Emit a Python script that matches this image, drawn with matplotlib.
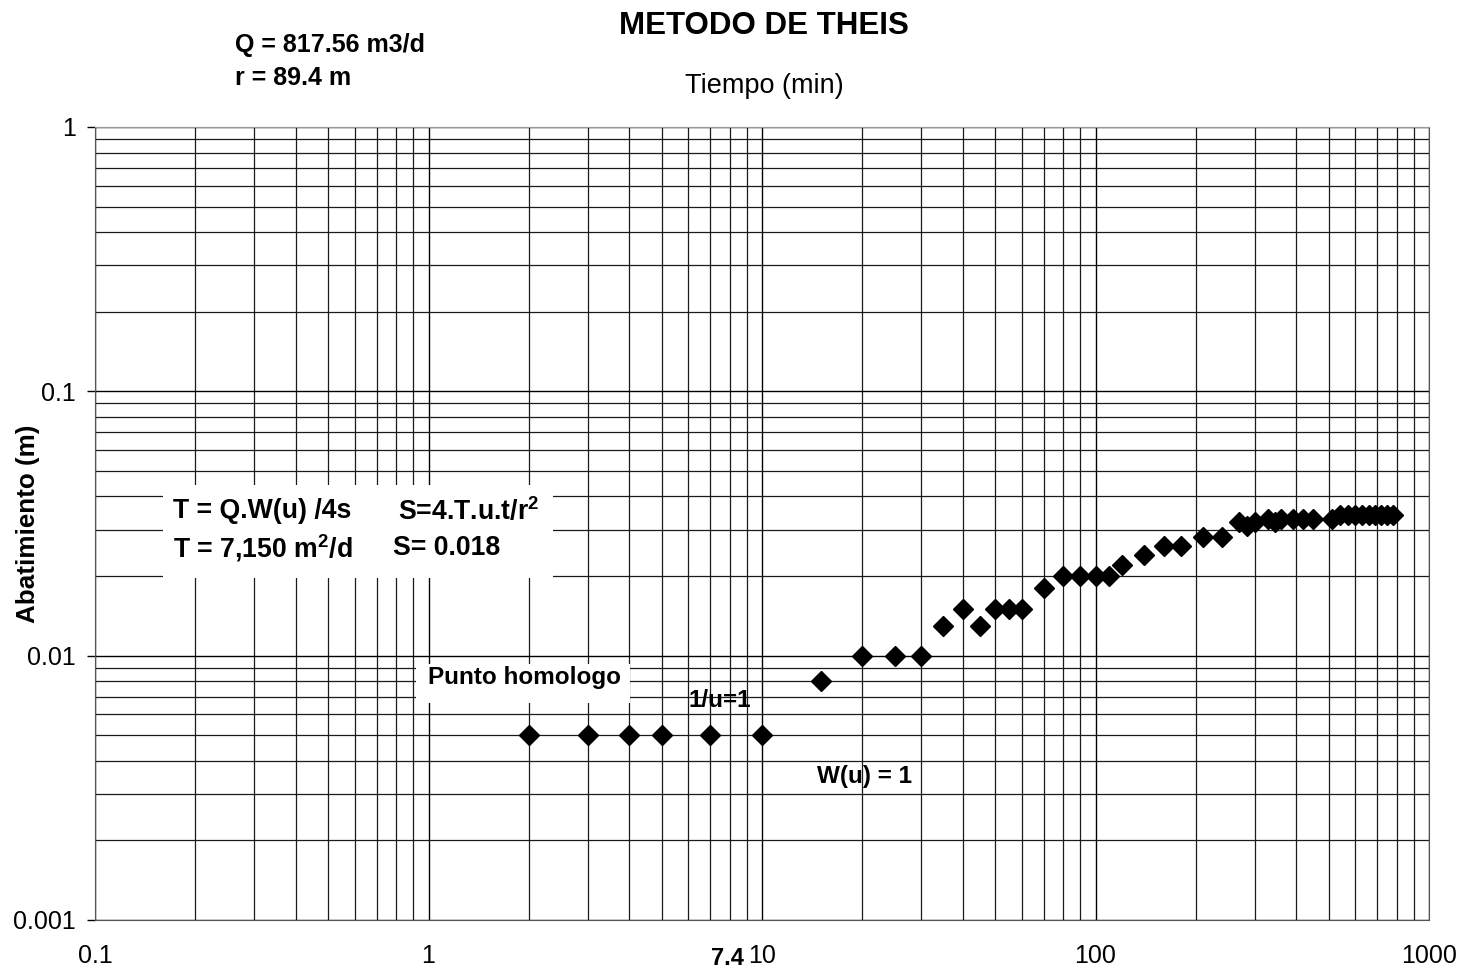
import matplotlib
matplotlib.use("Agg")
import matplotlib.pyplot as plt
from matplotlib.patches import Rectangle
from matplotlib.ticker import LogLocator, FixedLocator, FixedFormatter, NullFormatter

plt.rcParams['font.family'] = ['Liberation Sans', 'DejaVu Sans']
plt.rcParams['mathtext.fontset'] = 'custom'
plt.rcParams['mathtext.rm'] = 'Liberation Sans'
plt.rcParams['mathtext.bf'] = 'Liberation Sans:bold'

# prueba de bombeo: tiempo (min) vs abatimiento (m)
tiempo = [2, 3, 4, 5, 7, 10, 15, 20, 25, 30, 35, 40, 45, 50, 55, 60,
          70, 80, 90, 100, 110, 120, 140, 160, 180, 210, 240,
          270, 285, 300, 330, 345, 360, 390, 420, 450,
          510, 540, 570, 600, 630, 660, 690, 720, 750, 780]
abatimiento = [0.005, 0.005, 0.005, 0.005, 0.005, 0.005, 0.008, 0.010, 0.010, 0.010,
               0.013, 0.015, 0.013, 0.015, 0.015, 0.015,
               0.018, 0.020, 0.020, 0.020, 0.020, 0.022, 0.024, 0.026, 0.026, 0.028, 0.028,
               0.032, 0.031, 0.032, 0.033, 0.032, 0.033, 0.033, 0.033, 0.033,
               0.033, 0.034, 0.034, 0.034, 0.034, 0.034, 0.034, 0.034, 0.034, 0.034]

x_ticks = [0.1, 1, 10, 100, 1000]
x_labels = ["0.1", "1", "10", "100", "1000"]
y_ticks = [0.001, 0.01, 0.1, 1]
y_labels = ["0.001", "0.01", "0.1", "1"]

fig = plt.figure(figsize=(14.6, 9.73), dpi=100)
ax = fig.add_axes([0.0651, 0.0545, 0.9137, 0.815])

ax.set_xscale('log')
ax.set_yscale('log')
ax.set_xlim(0.1, 1000)
ax.set_ylim(0.001, 1)

# rejilla log completa
ax.xaxis.set_major_locator(FixedLocator(x_ticks))
ax.xaxis.set_major_formatter(FixedFormatter(x_labels))
ax.xaxis.set_minor_locator(LogLocator(base=10, subs=range(2, 10), numticks=20))
ax.xaxis.set_minor_formatter(NullFormatter())
ax.yaxis.set_major_locator(FixedLocator(y_ticks))
ax.yaxis.set_major_formatter(FixedFormatter(y_labels))
ax.yaxis.set_minor_locator(LogLocator(base=10, subs=range(2, 10), numticks=20))
ax.yaxis.set_minor_formatter(NullFormatter())
ax.grid(True, which='major', color='black', linewidth=1.0)
ax.grid(True, which='minor', color='#1a1a1a', linewidth=0.9)

ax.tick_params(axis='x', which='both', length=0, pad=17, labelsize=18)
ax.tick_params(axis='y', which='major', length=6, width=1, direction='out', pad=8, labelsize=18)
ax.tick_params(axis='y', which='minor', length=0)

for s in ['left', 'bottom', 'right']:
    ax.spines[s].set_color('#555555')
ax.spines['top'].set_color('#999999')

ax.set_ylabel("Abatimiento (m)", fontsize=18.7, fontweight='bold')
ax.yaxis.set_label_coords(-0.041, 0.5)

# cuadros blancos de las anotaciones
ax.add_patch(Rectangle((0.16, 0.0196), 2.36 - 0.16, 0.0444 - 0.0196,
                       facecolor='white', edgecolor='none', zorder=2))
ax.add_patch(Rectangle((0.917, 0.00664), 4.02 - 0.917, 0.00933 - 0.00664,
                       facecolor='white', edgecolor='none', zorder=2))

ax.plot(tiempo, abatimiento, linestyle='none', marker='D', markersize=10,
        color='black', zorder=3)

bold = dict(fontsize=19.2, fontweight='bold', va='center', ha='left', zorder=4)
ax.text(0.1714, 0.0351, "T = Q.W(u) /4s", **bold)
ax.text(0.81, 0.0351, r"S=4.T.u.t/r$^{\mathbf{2}}$", **bold)
ax.text(0.1714, 0.0256, r"T = 7,150 m$^{\mathbf{2}}$/d", **bold)
ax.text(0.783, 0.0256, "S= 0.018", **bold)
ax.text(0.9966, 0.00826, "Punto homologo", fontsize=17.5, fontweight='bold',
        va='center', ha='left', zorder=4)
ax.text(6.0, 0.00676, "1/u=1", fontsize=17.5, fontweight='bold', va='center', ha='left', zorder=4)
ax.text(14.6, 0.00348, "W(u) = 1", fontsize=17.5, fontweight='bold', va='center', ha='left', zorder=4)
ax.text(7.9, -0.049, "7.4", fontsize=17, fontweight='bold', va='center', ha='center',
        transform=ax.get_xaxis_transform())

fig.text(764 / 1460, 1 - 26 / 973, "METODO DE THEIS", fontsize=22.5, fontweight='bold',
         ha='center', va='center')
fig.text(764 / 1460, 1 - 86 / 973, "Tiempo (min)", fontsize=19.5, ha='center', va='center')
fig.text(235 / 1460, 1 - 45 / 973, "Q = 817.56 m3/d", fontsize=18, fontweight='bold',
         ha='left', va='center')
fig.text(235 / 1460, 1 - 78 / 973, "r = 89.4 m", fontsize=18, fontweight='bold',
         ha='left', va='center')

fig.savefig("out.png", dpi=100)
